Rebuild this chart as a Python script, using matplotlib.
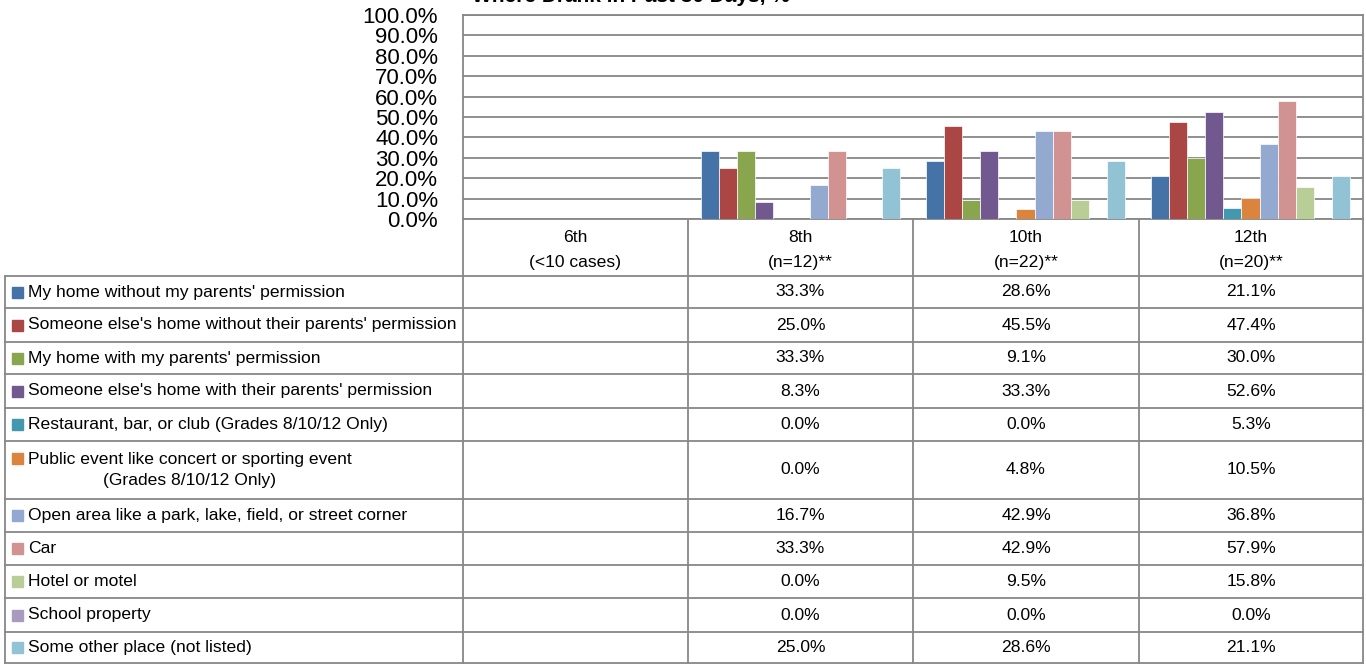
import numpy as np
import matplotlib
matplotlib.use('Agg')
import matplotlib.pyplot as plt
from matplotlib.patches import Rectangle

plt.rcParams['font.family'] = ['Liberation Sans', 'DejaVu Sans']

# data read off the chart's table (percent); 6th grade had <10 cases, so no values
grades = ['6th', '8th', '10th', '12th']
grade_notes = ['(<10 cases)', '(n=12)**', '(n=22)**', '(n=20)**']
places = [
    "My home without my parents' permission",
    "Someone else's home without their parents' permission",
    "My home with my parents' permission",
    "Someone else's home with their parents' permission",
    "Restaurant, bar, or club (Grades 8/10/12 Only)",
    "Public event like concert or sporting event\n(Grades 8/10/12 Only)",
    "Open area like a park, lake, field, or street corner",
    "Car",
    "Hotel or motel",
    "School property",
    "Some other place (not listed)",
]
pct_6th = [None, None, None, None, None, None, None, None, None, None, None]
pct_8th = [33.3, 25.0, 33.3, 8.3, 0.0, 0.0, 16.7, 33.3, 0.0, 0.0, 25.0]
pct_10th = [28.6, 45.5, 9.1, 33.3, 0.0, 4.8, 42.9, 42.9, 9.5, 0.0, 28.6]
pct_12th = [21.1, 47.4, 30.0, 52.6, 5.3, 10.5, 36.8, 57.9, 15.8, 0.0, 21.1]
by_grade = [pct_6th, pct_8th, pct_10th, pct_12th]

colors = ['#4572A7', '#AA4643', '#89A54E', '#71588F', '#4198AF', '#DB843D',
          '#93A9CF', '#D19392', '#B9CD96', '#A99BBD', '#92C3D4']

# layout in pixels (figure is 1366 x 664)
W, H = 1366, 664
plot_l, plot_r, plot_t, plot_b = 463, 1363, 15, 219
col_edges = [463, 688, 913, 1139, 1363]
row_edges = [276, 308, 342, 374, 408, 441, 499, 532, 565, 598, 632, 663]
tab_l = 5
grid_c = '#878787'
lw = 1.3

fig = plt.figure(figsize=(W / 100, H / 100), dpi=100)

ax = fig.add_axes([plot_l / W, 1 - plot_b / H, (plot_r - plot_l) / W, (plot_b - plot_t) / H])
n = len(places)
bw = 0.0805
xs = np.arange(len(grades))
for i in range(n):
    heights = [np.nan if g[i] is None else g[i] for g in by_grade]
    ax.bar(xs + (i - (n - 1) / 2) * bw, heights, width=bw, color=colors[i],
           edgecolor='white', linewidth=0.5, zorder=3)
ax.set_xlim(-0.5, len(grades) - 0.5)
ax.set_ylim(0, 100)
ticks = np.arange(0, 101, 10)
ax.set_yticks(ticks)
ax.set_yticklabels([f'{t:.1f}%' for t in ticks], fontsize=16)
ax.set_xticks([])
ax.tick_params(axis='y', length=0, pad=18)
ax.yaxis.grid(True, color=grid_c, linewidth=lw)
ax.set_axisbelow(True)
for s in ax.spines.values():
    s.set_color(grid_c)
    s.set_linewidth(lw)

# title sits mostly above the visible area
fig.text(790 / W, 1 - 2 / H, 'Where Drank in Past 30 Days, %', ha='right', va='baseline',
         fontsize=15, fontweight='bold')

# data table drawn in pixel coordinates
tab = fig.add_axes([0, 0, 1, 1], zorder=-1)
tab.set_xlim(0, W)
tab.set_ylim(H, 0)
tab.axis('off')

for y in row_edges:
    tab.plot([tab_l, plot_r], [y, y], color=grid_c, lw=lw)
tab.plot([tab_l, tab_l], [row_edges[0], row_edges[-1]], color=grid_c, lw=lw)
for x in col_edges:
    tab.plot([x, x], [plot_b, row_edges[-1]], color=grid_c, lw=lw)

fs = 12.6
for j, g in enumerate(grades):
    cx = (col_edges[j] + col_edges[j + 1]) / 2
    tab.text(cx, 237, g, ha='center', va='center', fontsize=fs)
    tab.text(cx, 262, grade_notes[j], ha='center', va='center', fontsize=fs)

for i, label in enumerate(places):
    top, bot = row_edges[i], row_edges[i + 1]
    mid = (top + bot) / 2
    two_line = '\n' in label
    first_mid = top + 17 if two_line else mid
    tab.add_patch(Rectangle((12, first_mid - 5.5), 11, 11, color=colors[i]))
    tab.text(28, mid, label, ha='left', va='center', multialignment='center',
             fontsize=fs, linespacing=1.45)
    for j, g in enumerate(by_grade):
        if g[i] is None:
            continue
        cx = (col_edges[j] + col_edges[j + 1]) / 2
        tab.text(cx, mid, f'{g[i]:.1f}%', ha='center', va='center', fontsize=fs)

fig.savefig('out.png', dpi=100)
